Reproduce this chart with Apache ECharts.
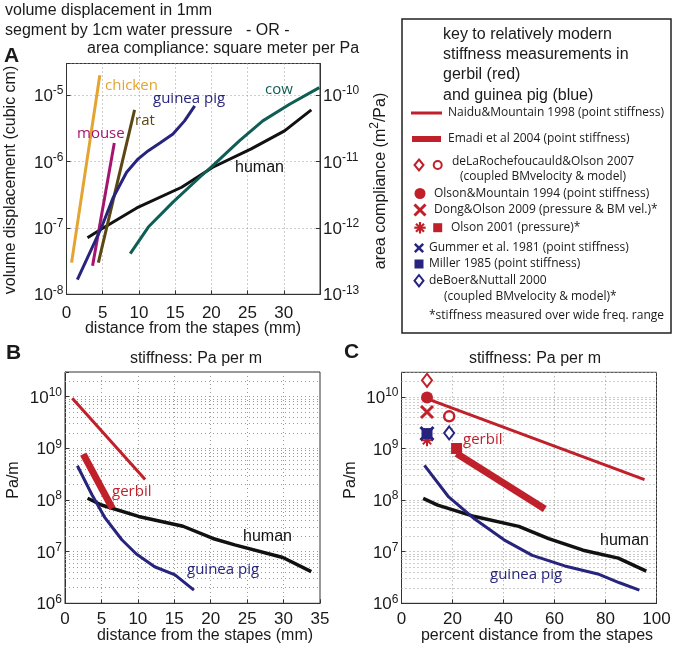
<!DOCTYPE html>
<html><head><meta charset="utf-8">
<script src="https://cdn.jsdelivr.net/npm/echarts@6/dist/echarts.min.js"></script>
<style>html,body{margin:0;padding:0;background:#fff}#c{width:675px;height:648px}</style>
</head><body><div id="c"></div>
<script>
// ---------- Panel A: volume displacement (cubic cm) vs distance from stapes (mm)
const chickenA   = [[0.7, 3e-8], [4.6, 2e-5]];
const mouseA     = [[3.6, 2.7e-8], [6.6, 1.9e-6]];
const ratA       = [[4.4, 3e-8], [9.4, 6e-6]];
const guineaPigA = [[1.5,1.66e-8],[4.8,1e-7],[6.4,2.8e-7],[8.3,6.9e-7],[9.9,1.1e-6],[11.3,1.46e-6],[12.9,1.9e-6],[14.7,2.6e-6],[16.3,4.1e-6],[17.7,6.9e-6]];
const humanA     = [[2.9,7.1e-8],[4.6,9.3e-8],[9.7,2.0e-7],[15.9,4.1e-7],[20.2,8.2e-7],[25.5,1.55e-6],[30.1,2.9e-6],[33.8,6e-6]];
const cowA       = [[8.8,4.1e-8],[11.3,1.03e-7],[14.7,2.45e-7],[18.4,5.8e-7],[20.2,8.7e-7],[23.9,2.07e-6],[27.1,4.1e-6],[30.8,7.3e-6],[34.9,1.3e-5]];

// ---------- Panel B: stiffness (Pa/m) vs distance from stapes (mm)
const gerbilThinB  = [[1.0, 9.3e9], [11.0, 2.5e8]];
const gerbilThickB = [[2.5, 7.7e8], [6.5, 6.9e7]];
const guineaPigB   = [[1.7,4.6e8],[3.7,1.26e8],[5.5,4.5e7],[7.8,1.7e7],[9.8,9e6],[12.3,5.1e6],[15.1,3.55e6],[17.7,1.8e6]];
const humanB       = [[3.1,1.08e8],[5,8e7],[10.1,4.8e7],[16.2,3.1e7],[20.3,1.8e7],[23.3,1.35e7],[29.9,7.7e6],[33.8,4.1e6]];

// ---------- Panel C: stiffness (Pa/m) vs percent distance from stapes
const gerbilThinC  = [[9.9, 9.3e9], [95.3, 2.5e8]];
const gerbilThickC = [[21.6, 8e8], [56.2, 6.7e7]];
const guineaPigC   = [[9,4.7e8],[18.5,1.15e8],[28.7,4.3e7],[40.2,1.7e7],[51.3,8.5e6],[64,5.3e6],[77,3.7e6],[85.5,2.5e6],[93.3,1.8e6]];
const humanC       = [[8.5,1.08e8],[14.2,8e7],[28.7,4.8e7],[46,3.1e7],[57.7,1.8e7],[71.2,1.07e7],[85,7.5e6],[96,4.2e6]];
const deLaRocheDiamondC = [[10, 2.1e10]];
const deLaRocheCircleC  = [[18.7, 4.2e9]];
const olsonMountainC    = [[10, 9.7e9]];
const dongOlsonC        = [[10, 5.1e9]];
const olson2001StarC    = [[10, 1.45e9]];
const olson2001SquareC  = [[21.6, 1.0e9]];
const gummerC           = [[10, 1.95e9]];
const millerC           = [[10, 1.95e9]];
const deBoerC           = [[18.7, 2.0e9]];

// ---------- minor grid values (2..9 x 10^n)
const minorA  = [];
for (let e = -8; e <= -5; e++) for (let k = 2; k <= 9; k++) { const v = k * Math.pow(10, e); if (v <= 3e-5) minorA.push(v); }
const minorBC = [];
for (let e = 6; e <= 10; e++) for (let k = 2; k <= 9; k++) { const v = k * Math.pow(10, e); if (v <= 3e10) minorBC.push(v); }

const RED = '#c0202a', BLUE = '#27247e', GRID = '#9a9a9a', AX = '#333';
const ARIAL = '"Liberation Sans", Arial, sans-serif';
const MYR = '"Open Sans", "Noto Sans", sans-serif';

function powLabel(v) {
  const l = Math.log10(v), r = Math.round(l);
  if (Math.abs(l - r) > 1e-6) return '';
  return '{b|10}{s|' + r + '}';
}
const powRich = {
  b: {fontSize: 17, fontFamily: ARIAL, color: '#1a1a1a', lineHeight: 20, verticalAlign: 'bottom'},
  s: {fontSize: 12, fontFamily: ARIAL, color: '#1a1a1a', lineHeight: 12, verticalAlign: 'top'}
};

function xAx(gi, max, interval, hideMax, margin) {
  return {
    type: 'value', gridIndex: gi, min: 0, max: max, interval: interval,
    axisLine: {show: true, onZero: false, lineStyle: {color: AX}},
    axisTick: {show: true, inside: true, length: 4, lineStyle: {color: AX}},
    axisLabel: {color: '#1a1a1a', fontSize: 17, fontFamily: ARIAL, margin: margin,
      formatter: v => (hideMax && v === max) ? '' : String(v)},
    splitLine: {show: true, lineStyle: {color: GRID, type: [1, 3]}}
  };
}
function yAx(gi, min, max, pos, grid) {
  return {
    type: 'log', logBase: 10, gridIndex: gi, min: min, max: max, position: pos,
    axisLine: {show: true, onZero: false, lineStyle: {color: AX}},
    axisTick: {show: true, inside: true, length: 4, lineStyle: {color: AX}},
    axisLabel: {formatter: powLabel, rich: powRich, margin: 3},
    splitLine: {show: grid, lineStyle: {color: GRID, type: [1, 3]}}
  };
}
function line(xi, yi, data, color, width, extra) {
  return Object.assign({
    type: 'line', xAxisIndex: xi, yAxisIndex: yi, data: data, symbol: 'none', showSymbol: false,
    lineStyle: {color: color, width: width, cap: 'butt'}, itemStyle: {color: color},
    silent: true, animation: false, z: 3
  }, extra || {});
}
function minorLines(vals) {
  return {silent: true, symbol: 'none', z: 1, animation: false, label: {show: false},
    lineStyle: {color: GRID, type: [1, 3], width: 1},
    data: vals.map(v => ({yAxis: v}))};
}
function mark(data, symbol, size, fill, stroke, bw, z) {
  return {type: 'scatter', xAxisIndex: 2, yAxisIndex: 3, data: data, symbol: symbol, symbolSize: size,
    itemStyle: {color: fill, borderColor: stroke, borderWidth: bw, opacity: 1}, z: z, silent: true, animation: false};
}
const X_PATH = 'path://M0,0L10,10M10,0L0,10';
const STAR_PATH = 'path://M5,0L5,10M0,5L10,5M1.5,1.5L8.5,8.5M8.5,1.5L1.5,8.5';

// ---------- graphic texts
function txt(text, x, y, font, fill, align) {
  return {type: 'text', silent: true, z: 10,
    style: {text: text, x: x, y: y, font: font, fill: fill || '#1a1a1a', align: align || 'left', verticalAlign: 'middle'}};
}
function vtxt(text, x, y, font, rich) {
  const st = {text: text, x: 0, y: 0, font: font, fill: '#1a1a1a', align: 'center', verticalAlign: 'middle'};
  if (rich) st.rich = rich;
  return {type: 'text', silent: true, z: 10, x: x, y: y, rotation: Math.PI / 2, style: st};
}
const F16 = '16px ' + ARIAL;
const graphics = [
  txt('volume displacement in 1mm', 5, 11, F16),
  txt('segment by 1cm water pressure   - OR -', 5, 31, F16),
  txt('area compliance: square meter per Pa', 87, 49, F16),
  txt('A', 4, 56, 'bold 21px ' + ARIAL),
  txt('B', 6, 353, 'bold 21px ' + ARIAL),
  txt('C', 344, 352, 'bold 21px ' + ARIAL),
  vtxt('volume displacement (cubic cm)', 11, 180, F16),
  vtxt('{t|area compliance (m}{s|2}{t|/Pa)}', 379, 181, F16,
    {t: {font: F16, fill: '#1a1a1a', lineHeight: 20, verticalAlign: 'bottom'},
     s: {font: '12px ' + ARIAL, fill: '#1a1a1a', lineHeight: 12, verticalAlign: 'top'}}),
  txt('distance from the stapes (mm)', 193, 329, F16, null, 'center'),
  txt('stiffness: Pa per m', 196, 359, F16, null, 'center'),
  txt('stiffness: Pa per m', 535, 359, F16, null, 'center'),
  txt('distance from the stapes (mm)', 205, 636, F16, null, 'center'),
  txt('percent distance from the stapes', 537, 636, F16, null, 'center'),
  vtxt('Pa/m', 14, 480, F16),
  vtxt('Pa/m', 351, 480, F16),
  // curve labels, panel A
  txt('chicken', 105, 86, '15px ' + MYR, '#e3a431'),
  txt('guinea pig', 153, 99, '15px ' + MYR, BLUE),
  txt('rat', 135, 121, '15px ' + MYR, '#5a4712'),
  txt('mouse', 77, 134, '15px ' + MYR, '#a3156e'),
  txt('human', 235, 168, F16, '#111'),
  txt('cow', 265, 90, '15px ' + MYR, '#0f5e55'),
  // panel B
  txt('gerbil', 112, 492, '15px ' + MYR, RED),
  txt('human', 243, 537, F16, '#111'),
  txt('guinea pig', 187, 570, '15px ' + MYR, BLUE),
  // panel C
  txt('gerbil', 463, 440, '15px ' + MYR, RED),
  txt('human', 600, 541, F16, '#111'),
  txt('guinea pig', 490, 575, '15px ' + MYR, BLUE),
  // key box
  {type: 'rect', silent: true, z: 8, shape: {x: 402, y: 19, width: 269, height: 314},
    style: {fill: '#fff', stroke: '#222', lineWidth: 1.5}},
  txt('key to relatively modern', 443, 35, F16),
  txt('stiffness measurements in', 443, 55, F16),
  txt('gerbil (red)', 443, 75, F16),
  txt('and guinea pig (blue)', 443, 96, F16),
  {type: 'line', silent: true, z: 10, shape: {x1: 411, y1: 113, x2: 442, y2: 113}, style: {stroke: RED, lineWidth: 3}},
  {type: 'line', silent: true, z: 10, shape: {x1: 412, y1: 139, x2: 441, y2: 139}, style: {stroke: RED, lineWidth: 6}},
  txt('Naidu&Mountain 1998 (point stiffness)', 448, 113, '12px ' + MYR),
  txt('Emadi et al 2004 (point stiffness)', 448, 139, '12px ' + MYR),
  {type: 'polygon', silent: true, z: 10, shape: {points: [[419, 159.5], [423.5, 165], [419, 170.5], [414.5, 165]]}, style: {fill: '#fff', stroke: RED, lineWidth: 2}},
  {type: 'circle', silent: true, z: 10, shape: {cx: 437.7, cy: 165, r: 4}, style: {fill: '#fff', stroke: RED, lineWidth: 2}},
  txt('deLaRochefoucauld&Olson 2007', 452, 162, '12px ' + MYR),
  txt('(coupled BMvelocity & model)', 460, 177, '12px ' + MYR),
  {type: 'circle', silent: true, z: 10, shape: {cx: 420, cy: 193.5, r: 5.5}, style: {fill: RED}},
  txt('Olson&Mountain 1994 (point stiffness)', 434, 193.5, '12px ' + MYR),
  {type: 'polyline', silent: true, z: 10, shape: {points: [[414.5, 204.5], [425.5, 215.5]]}, style: {stroke: RED, lineWidth: 3, fill: null}},
  {type: 'polyline', silent: true, z: 10, shape: {points: [[425.5, 204.5], [414.5, 215.5]]}, style: {stroke: RED, lineWidth: 3, fill: null}},
  txt('Dong&Olson 2009 (pressure & BM vel.)*', 434, 210, '12px ' + MYR),
  {type: 'polyline', silent: true, z: 10, shape: {points: [[420, 222], [420, 233.5]]}, style: {stroke: RED, lineWidth: 2.2, fill: null}},
  {type: 'polyline', silent: true, z: 10, shape: {points: [[414.3, 227.7], [425.7, 227.7]]}, style: {stroke: RED, lineWidth: 2.2, fill: null}},
  {type: 'polyline', silent: true, z: 10, shape: {points: [[416, 223.7], [424, 231.7]]}, style: {stroke: RED, lineWidth: 2.2, fill: null}},
  {type: 'polyline', silent: true, z: 10, shape: {points: [[424, 223.7], [416, 231.7]]}, style: {stroke: RED, lineWidth: 2.2, fill: null}},
  {type: 'rect', silent: true, z: 10, shape: {x: 433.2, y: 223.2, width: 9, height: 9}, style: {fill: RED}},
  txt('Olson 2001 (pressure)*', 451, 228, '12px ' + MYR),
  {type: 'polyline', silent: true, z: 10, shape: {points: [[414.8, 243.8], [423.2, 252.2]]}, style: {stroke: BLUE, lineWidth: 2.5, fill: null}},
  {type: 'polyline', silent: true, z: 10, shape: {points: [[423.2, 243.8], [414.8, 252.2]]}, style: {stroke: BLUE, lineWidth: 2.5, fill: null}},
  txt('Gummer et al. 1981 (point stiffness)', 429, 248, '12px ' + MYR),
  {type: 'rect', silent: true, z: 10, shape: {x: 414.5, y: 259.5, width: 9, height: 9}, style: {fill: BLUE}},
  txt('Miller 1985 (point stiffness)', 429, 264, '12px ' + MYR),
  {type: 'polygon', silent: true, z: 10, shape: {points: [[419, 275], [423.5, 280.7], [419, 286.4], [414.5, 280.7]]}, style: {fill: '#fff', stroke: BLUE, lineWidth: 2}},
  txt('deBoer&Nuttall 2000', 429, 281, '12px ' + MYR),
  txt('(coupled BMvelocity & model)*', 444, 297, '12px ' + MYR),
  txt('*stiffness measured over wide freq. range', 429, 316, '12px ' + MYR)
];

const chart = echarts.init(document.getElementById('c'), null, {renderer: 'canvas'});
chart.setOption({
  animation: false,
  backgroundColor: '#fff',
  grid: [
    {left: 66.5, top: 63.5, width: 253.5, height: 230.8, show: true, borderColor: AX, borderWidth: 1, containLabel: false},
    {left: 65, top: 372, width: 255, height: 231.3, show: true, borderColor: AX, borderWidth: 1, containLabel: false},
    {left: 401.5, top: 372.3, width: 255, height: 231, show: true, borderColor: AX, borderWidth: 1, containLabel: false}
  ],
  xAxis: [xAx(0, 35, 5, true, 11), xAx(1, 35, 5, false, 8), xAx(2, 100, 20, false, 8)],
  yAxis: [
    yAx(0, 1e-8, 3e-5, 'left', true),
    yAx(0, 1e-13, 3e-10, 'right', false),
    yAx(1, 1e6, 3e10, 'left', true),
    yAx(2, 1e6, 3e10, 'left', true)
  ],
  series: [
    line(0, 0, humanA, '#111', 3, {markLine: minorLines(minorA)}),
    line(0, 0, cowA, '#0f5e55', 3),
    line(0, 0, chickenA, '#e3a431', 3),
    line(0, 0, mouseA, '#a3156e', 3),
    line(0, 0, ratA, '#5a4712', 3),
    line(0, 0, guineaPigA, BLUE, 3),

    line(1, 2, humanB, '#111', 3.5, {markLine: minorLines(minorBC)}),
    line(1, 2, guineaPigB, BLUE, 3),
    line(1, 2, gerbilThinB, RED, 3),
    line(1, 2, gerbilThickB, RED, 7),

    line(2, 3, humanC, '#111', 3.5, {markLine: minorLines(minorBC)}),
    line(2, 3, guineaPigC, BLUE, 3),
    line(2, 3, gerbilThinC, RED, 3),
    line(2, 3, gerbilThickC, RED, 7),
    mark(deLaRocheDiamondC, 'diamond', [10, 13], '#fff', RED, 2, 5),
    mark(olsonMountainC, 'circle', 12, RED, RED, 0, 5),
    mark(dongOlsonC, X_PATH, 12, 'none', RED, 3, 5),
    mark(deLaRocheCircleC, 'circle', 10, '#fff', RED, 2.5, 5),
    mark(olson2001StarC, STAR_PATH, 12, 'none', RED, 2, 5),
    mark(millerC, 'rect', 11, BLUE, BLUE, 0, 6),
    mark(gummerC, X_PATH, 13, 'none', BLUE, 3, 6),
    mark(deBoerC, 'diamond', [10, 13], '#fff', BLUE, 2, 6),
    mark(olson2001SquareC, 'rect', 11, RED, RED, 0, 6)
  ],
  graphic: graphics
});
</script>
</body></html>
